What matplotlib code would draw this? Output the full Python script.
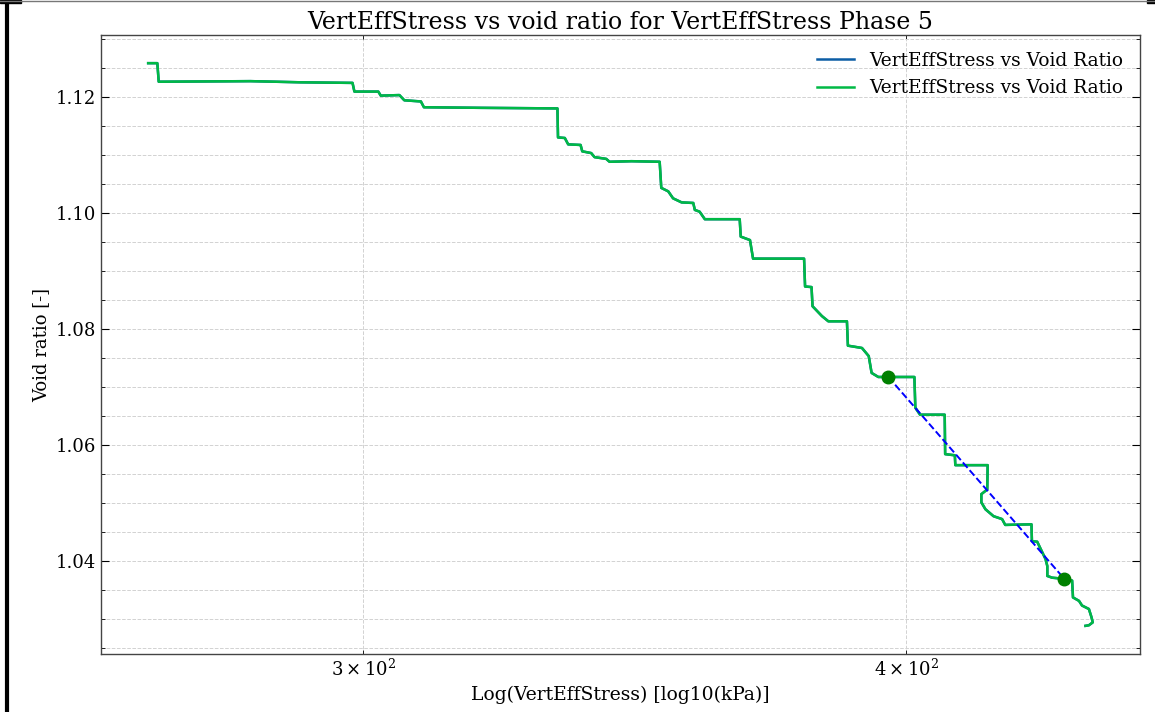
import matplotlib
matplotlib.use("Agg")
import matplotlib.pyplot as plt
from matplotlib.lines import Line2D
from matplotlib.patches import Rectangle
from matplotlib.ticker import MultipleLocator

# VertEffStress [kPa] vs void ratio, phase 5
stress = [
    267.7, 269.0, 269.2, 282.6, 290.2, 298.3, 298.6, 302.4, 302.8, 305.8,
    306.6, 309.3, 309.8, 319.3, 332.5, 332.6, 333.8, 334.4, 336.6, 336.9,
    338.5, 339.1, 341.2, 341.8, 345.8, 351.0, 351.3, 352.6, 353.5, 355.1,
    357.3, 357.6, 358.5, 359.5, 366.2, 366.4, 368.2, 368.8, 373.4, 378.9,
    379.1, 380.4, 380.6, 382.5, 383.8, 387.6, 387.8, 390.7, 392.1, 392.7,
    394.1, 396.2, 401.7, 401.9, 402.9, 408.2, 408.3, 410.4, 410.5, 417.6,
    417.5, 416.2, 416.2, 417.1, 418.9, 420.8, 421.5, 427.4, 427.5, 428.7,
    430.6, 431.0, 431.0, 432.1, 434.9, 436.7, 436.9, 438.3, 439.0, 440.6,
    441.2, 441.5, 440.6, 439.8,
]
void_ratio = [
    1.1258, 1.1258, 1.1226, 1.1227, 1.1225, 1.1224, 1.1209, 1.1209, 1.1202, 1.1203,
    1.1194, 1.1192, 1.1182, 1.1181, 1.1180, 1.1130, 1.1129, 1.1118, 1.1117, 1.1106,
    1.1103, 1.1096, 1.1093, 1.1088, 1.1089, 1.1088, 1.1043, 1.1037, 1.1025, 1.1018,
    1.1017, 1.1005, 1.1002, 1.0989, 1.0989, 1.0959, 1.0953, 1.0921, 1.0921, 1.0921,
    1.0873, 1.0872, 1.0839, 1.0822, 1.0813, 1.0813, 1.0771, 1.0767, 1.0753, 1.0724,
    1.0717, 1.0717, 1.0717, 1.0664, 1.0652, 1.0652, 1.0584, 1.0582, 1.0565, 1.0565,
    1.0523, 1.0515, 1.0501, 1.0489, 1.0477, 1.0472, 1.0462, 1.0463, 1.0434, 1.0433,
    1.0403, 1.0391, 1.0374, 1.0371, 1.0369, 1.0366, 1.0337, 1.0331, 1.0323, 1.0317,
    1.0303, 1.0294, 1.0289, 1.0288,
]

# fitted segment end points
fit_stress = [396.2, 434.9]
fit_void = [1.0717, 1.0369]

label = "VertEffStress vs Void Ratio"

plt.rcParams.update({
    "font.family": "DejaVu Serif",
    "mathtext.fontset": "dejavuserif",
    "font.size": 13,
    "xtick.direction": "in",
    "ytick.direction": "in",
    "xtick.top": True,
    "ytick.right": True,
    "xtick.major.size": 6,
    "ytick.major.size": 6,
    "xtick.minor.size": 3,
    "ytick.minor.size": 3,
    "axes.linewidth": 1.0,
    "axes.edgecolor": "#444444",
})

fig = plt.figure(figsize=(11.55, 7.12), dpi=100)
ax = fig.add_axes([0.0874, 0.0815, 0.8996, 0.8693])

ax.plot(stress, void_ratio, color="#0C5DA5", lw=1.8, label=label)
ax.plot(stress, void_ratio, color="#00B945", lw=1.8, label=label)
ax.plot(fit_stress, fit_void, "b--", lw=1.4)
ax.plot(fit_stress, fit_void, "o", color="green", ms=9, ls="none")

ax.set_xscale("log")
ax.yaxis.set_major_locator(MultipleLocator(0.02))
ax.yaxis.set_minor_locator(MultipleLocator(0.005))
ax.grid(True, which="both", ls="--", color="#d2d2d2", lw=0.7)

ax.set_title("VertEffStress vs void ratio for VertEffStress Phase 5",
             fontsize=17, pad=4)
ax.set_xlabel("Log(VertEffStress) [log10(kPa)]", fontsize=13.5)
ax.set_ylabel("Void ratio [-]")
ax.legend(loc="upper right", frameon=False, fontsize=13.4)

# screenshot frame edges
fig.add_artist(Line2D([0.0062, 0.0062], [0, 1], transform=fig.transFigure,
                      color="black", lw=3))
fig.add_artist(Line2D([0, 1], [0.998, 0.998], transform=fig.transFigure,
                      color="#777777", lw=1))
fig.add_artist(Rectangle((0, 0.996), 0.018, 0.004, transform=fig.transFigure,
                         color="black"))
fig.add_artist(Rectangle((0.993, 0.996), 0.007, 0.004, transform=fig.transFigure,
                         color="black"))

fig.savefig("out.png", dpi=100)
